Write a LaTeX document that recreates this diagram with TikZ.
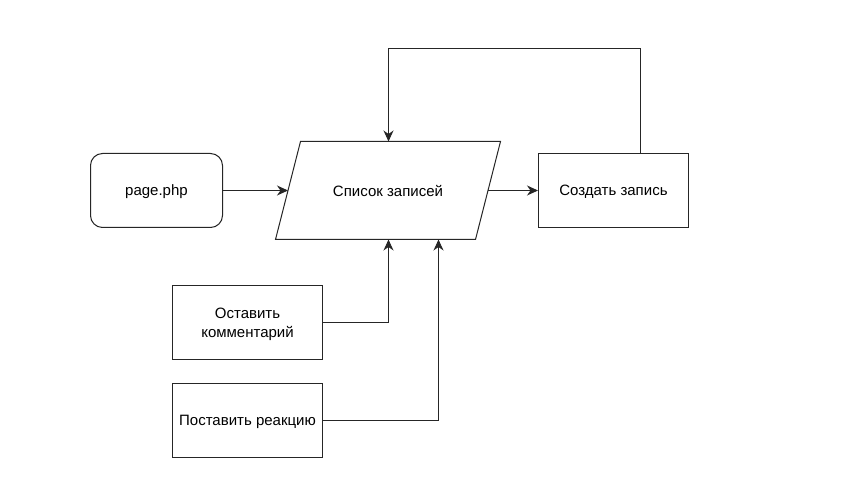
\documentclass[tikz,border=0pt]{standalone}
\usepackage{fontspec}
\setmainfont{Liberation Sans}
\usetikzlibrary{arrows.meta}
\begin{document}
\begin{tikzpicture}[x=1pt,y=-1pt,
  txt/.style={font=\fontsize{15pt}{19pt}\selectfont,text depth=0pt},
  box/.style={txt,draw=black!85,line width=1pt,fill=white,minimum width=150pt,minimum height=74pt,inner sep=2pt,align=center},
  rbox/.style={box,rounded corners=12pt,minimum width=132pt},
  link/.style={draw=black!85,line width=1pt,-{Stealth[length=11pt,width=10pt,inset=3.5pt]}}]
\useasboundingbox (0,0) rectangle (855,502);
% nodes
\node[rbox] (page) at (156.5,190.5) {page.php};
\draw[draw=black!85,line width=1pt,fill=white] (300.5,141.5) -- (500.5,141.5) -- (475.5,239.5) -- (275.5,239.5) -- cycle;
\node[txt] (list) at (388,190.5) {Список записей};
\coordinate (listL) at (288,190.5);
\coordinate (listR) at (488,190.5);
\coordinate (listT) at (388.5,141.5);
\coordinate (listB1) at (388.5,239.5);
\coordinate (listB2) at (438.5,239.5);
\node[box] (create) at (613.5,190.5) {Создать запись};
\node[box] (comment) at (247.5,322.5) {Оставить\\комментарий};
\node[box] (react) at (247.5,420.5) {Поставить реакцию};
% connectors
\draw[link] (page.east) -- (listL);
\draw[link] (listR) -- (create.west);
\draw[link] (create.north -| 640.5,0) -- (640.5,48.5) -- (388.5,48.5) -- (listT);
\draw[link] (comment.east) -- (388.5,322.5) -- (listB1);
\draw[link] (react.east) -- (438.5,420.5) -- (listB2);
\end{tikzpicture}
\end{document}
